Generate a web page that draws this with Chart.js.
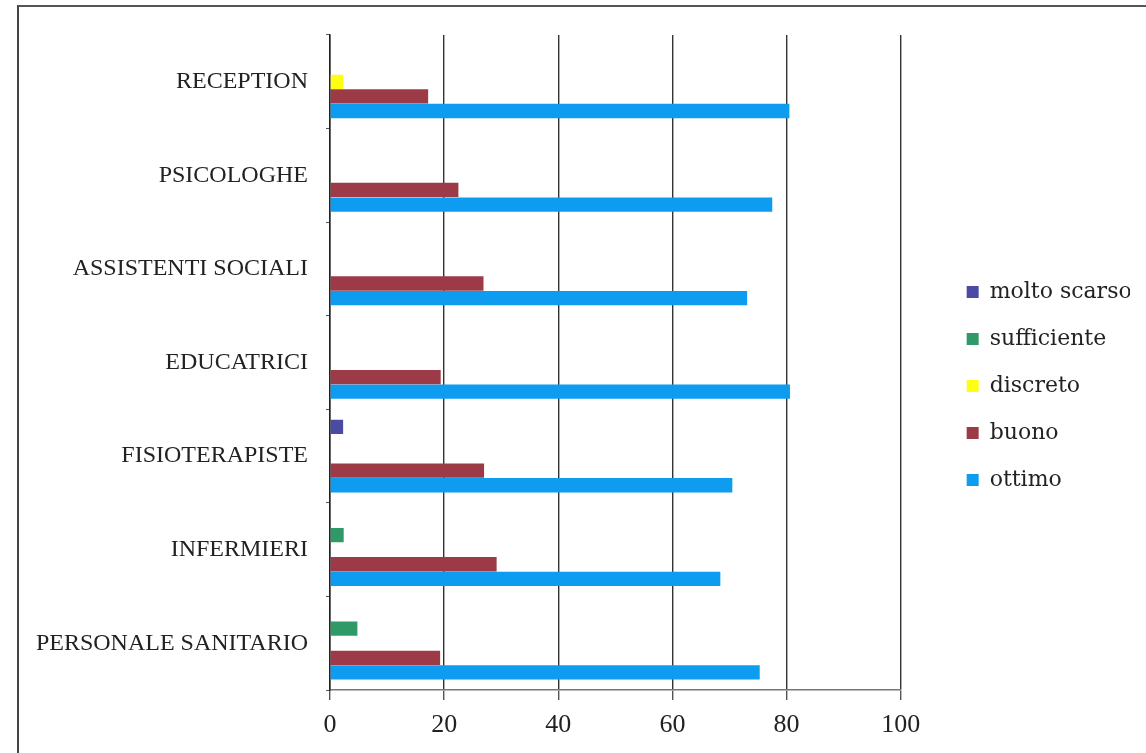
<!DOCTYPE html>
<html>
<head>
<meta charset="utf-8">
<script src="https://cdn.jsdelivr.net/npm/chart.js@4.4.0/dist/chart.umd.min.js"></script>
<style>
  html, body { margin: 0; padding: 0; background: #fff; }
  #frame {
    position: absolute; left: 17px; top: 5px; width: 1140px; height: 760px;
    border-left: 2px solid #444; border-top: 2px solid #555;
  }
  #wrap { position: absolute; left: 0; top: 0; width: 1146px; height: 753px; }
</style>
</head>
<body>
<div id="frame"></div>
<div id="wrap"><canvas id="chart"></canvas></div>
<script>
// categories, top to bottom
const categories = ['RECEPTION', 'PSICOLOGHE', 'ASSISTENTI SOCIALI', 'EDUCATRICI', 'FISIOTERAPISTE', 'INFERMIERI', 'PERSONALE SANITARIO'];

// percentages per rating
const moltoScarso = [0, 0, 0, 0, 2.3, 0, 0];
const sufficiente = [0, 0, 0, 0, 0, 2.4, 4.8];
const discreto    = [2.3, 0, 0, 0, 0, 0, 0];
const buono       = [17.2, 22.5, 26.9, 19.4, 27.0, 29.2, 19.3];
const ottimo      = [80.5, 77.5, 73.1, 80.6, 70.5, 68.4, 75.3];

const xTicks = [0, 20, 40, 60, 80, 100];

const serif = "'Liberation Serif', 'Times New Roman', serif";

const ctx = document.getElementById('chart').getContext('2d');
const chart = new Chart(ctx, {
    type: 'bar',
    data: {
        labels: categories,
        datasets: [
            { label: 'molto scarso', data: moltoScarso, backgroundColor: '#4b4ba3' },
            { label: 'sufficiente', data: sufficiente, backgroundColor: '#2f9a68' },
            { label: 'discreto', data: discreto, backgroundColor: '#ffff14' },
            { label: 'buono', data: buono, backgroundColor: '#9c3b47' },
            { label: 'ottimo', data: ottimo, backgroundColor: '#0d9cf0' }
        ]
    },
    options: {
        indexAxis: 'y',
        responsive: true,
        maintainAspectRatio: false,
        animation: false,
        datasets: {
            bar: {
                categoryPercentage: 0.78,
                barPercentage: 0.98,
                borderWidth: 0
            }
        },
        layout: {
            padding: { top: 35, bottom: 16, left: 0, right: 16 }
        },
        plugins: {
            legend: {
                position: 'right',
                labels: {
                    boxWidth: 12,
                    boxHeight: 12,
                    padding: 25,
                    color: '#222',
                    font: { family: "'DejaVu Serif', serif", size: 22 }
                }
            },
            tooltip: { enabled: false }
        },
        scales: {
            x: {
                min: 0,
                max: 100,
                afterBuildTicks: scale => {
                    scale.ticks = xTicks.map(v => ({ value: v }));
                },
                afterFit: scale => { scale.height = 47; },
                grid: {
                    color: '#333',
                    lineWidth: 1.4,
                    drawTicks: true,
                    tickLength: 10,
                    tickColor: '#555'
                },
                border: { color: '#777', width: 1.5 },
                ticks: {
                    padding: 10,
                    color: '#222',
                    font: { family: serif, size: 26 }
                }
            },
            y: {
                afterFit: scale => { scale.width = 330; },
                grid: {
                    drawOnChartArea: false,
                    drawTicks: true,
                    tickLength: 4,
                    tickColor: '#555',
                    offset: true
                },
                border: { color: '#222', width: 1.5 },
                ticks: {
                    padding: 18,
                    color: '#222',
                    font: { family: serif, size: 24 }
                }
            },
            yr: {
                type: 'category',
                position: 'right',
                grid: { display: false },
                border: { display: false },
                ticks: { display: false },
                afterFit: scale => { scale.width = 41; }
            }
        }
    }
});
</script>
</body>
</html>
